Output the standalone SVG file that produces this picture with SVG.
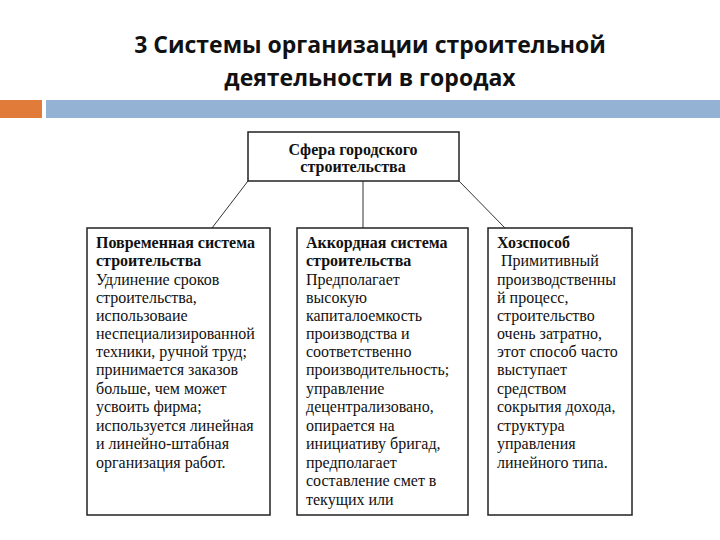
<svg xmlns="http://www.w3.org/2000/svg" width="720" height="540" viewBox="0 0 720 540">
<style>
.title{font-family:"Open Sans","Liberation Sans",sans-serif;font-weight:bold;font-size:23px;fill:#111;text-anchor:middle}
.box{fill:#fff;stroke:#222;stroke-width:1.5}
.t{font-family:'Liberation Serif','DejaVu Serif',serif;font-size:16px;fill:#111}
.b{font-weight:bold}
.c{text-anchor:middle}
.conn{stroke:#333;stroke-width:1;fill:none}
</style>
<rect width="720" height="540" fill="#fff"/>
<g id="title">
<text class="title" x="370" y="53">3 Системы организации строительной</text>
<text class="title" x="370" y="86">деятельности в городах</text>
</g>
<g id="bar">
<rect x="0" y="100" width="42" height="18" fill="#e07b39"/>
<rect x="46" y="100" width="674" height="18" fill="#94b3d4"/>
</g>
<g id="connectors">
<line class="conn" x1="248" y1="181" x2="212" y2="228"/>
<line class="conn" x1="363" y1="181" x2="363" y2="228"/>
<line class="conn" x1="459" y1="181" x2="505" y2="228"/>
</g>
<g id="root">
<rect class="box" x="248" y="132" width="211" height="49"/>
<text class="t b c" font-family="Liberation Serif, serif" x="353" y="155">Сфера городского</text>
<text class="t b c" font-family="Liberation Serif, serif" x="353" y="172">строительства</text>
</g>
<g id="povremennaya">
<rect class="box" x="87" y="228" width="183" height="287"/>
<text class="t" font-family="Liberation Serif, serif">
<tspan class="b" x="96" y="248">Повременная система</tspan>
<tspan class="b" x="96" y="266">строительства</tspan>
<tspan x="96" y="285">Удлинение сроков</tspan>
<tspan x="96" y="303">строительства,</tspan>
<tspan x="96" y="321">использоваие</tspan>
<tspan x="96" y="339">неспециализированной</tspan>
<tspan x="96" y="357">техники, ручной труд;</tspan>
<tspan x="96" y="375">принимается заказов</tspan>
<tspan x="96" y="394">больше, чем может</tspan>
<tspan x="96" y="412">усвоить фирма;</tspan>
<tspan x="96" y="431">используется линейная</tspan>
<tspan x="96" y="449">и линейно-штабная</tspan>
<tspan x="96" y="468">организация работ.</tspan>
</text>
</g>
<g id="akkordnaya">
<rect class="box" x="297" y="228" width="171" height="287"/>
<text class="t" font-family="Liberation Serif, serif">
<tspan class="b" x="306" y="248">Аккордная система</tspan>
<tspan class="b" x="306" y="266">строительства</tspan>
<tspan x="306" y="285">Предполагает</tspan>
<tspan x="306" y="303">высокую</tspan>
<tspan x="306" y="321">капиталоемкость</tspan>
<tspan x="306" y="339">производства и</tspan>
<tspan x="306" y="357">соответственно</tspan>
<tspan x="306" y="375">производительность;</tspan>
<tspan x="306" y="394">управление</tspan>
<tspan x="306" y="412">децентрализовано,</tspan>
<tspan x="306" y="431">опирается на</tspan>
<tspan x="306" y="449">инициативу бригад,</tspan>
<tspan x="306" y="468">предполагает</tspan>
<tspan x="306" y="486">составление смет в</tspan>
<tspan x="306" y="505">текущих или</tspan>
</text>
</g>
<g id="hozsposob">
<rect class="box" x="488" y="228" width="144" height="287"/>
<text class="t" font-family="Liberation Serif, serif">
<tspan class="b" x="497" y="248">Хозспособ</tspan>
<tspan x="501" y="266">Примитивный</tspan>
<tspan x="497" y="285">производственны</tspan>
<tspan x="497" y="303">й процесс,</tspan>
<tspan x="497" y="321">строительство</tspan>
<tspan x="497" y="339">очень затратно,</tspan>
<tspan x="497" y="357">этот способ часто</tspan>
<tspan x="497" y="375">выступает</tspan>
<tspan x="497" y="394">средством</tspan>
<tspan x="497" y="412">сокрытия дохода,</tspan>
<tspan x="497" y="431">структура</tspan>
<tspan x="497" y="449">управления</tspan>
<tspan x="497" y="468">линейного типа.</tspan>
</text>
</g>
</svg>
